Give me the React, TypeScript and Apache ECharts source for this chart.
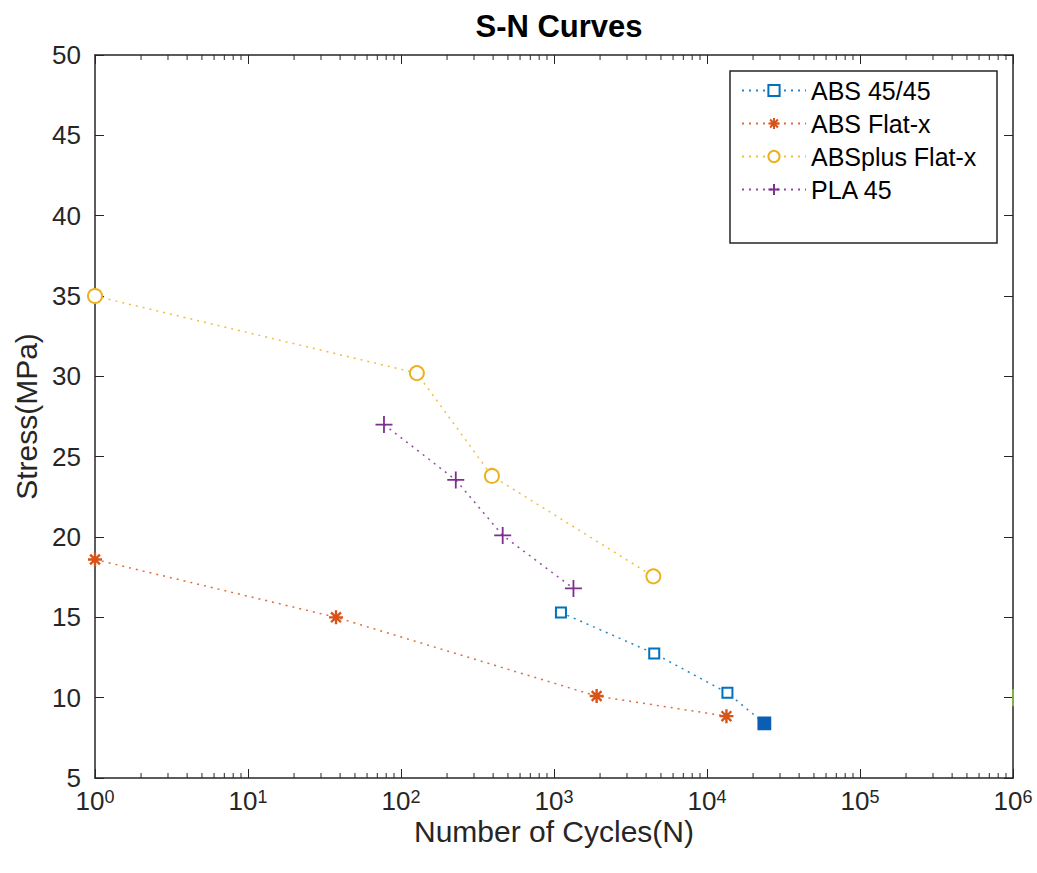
import React, { useEffect, useRef } from "react";
import * as echarts from "echarts";

const titleText = "S-N Curves";
const xName = "Number of Cycles(N)";
const yName = "Stress(MPa)";
const seriesNames = ["ABS 45/45", "ABS Flat-x", "ABSplus Flat-x", "PLA 45"];

const abs4545 = [
  [1110, 15.3],
  [4520, 12.75],
  [13600, 10.3],
];
const abs4545Runout = [23700, 8.4];
const absFlatX = [
  [1, 18.6],
  [37.6, 15.0],
  [1900, 10.1],
  [13400, 8.85],
];
const absPlusFlatX = [
  [1, 35.0],
  [127, 30.2],
  [393, 23.8],
  [4460, 17.55],
];
const pla45 = [
  [77.4, 27.0],
  [228, 23.55],
  [462, 20.1],
  [1340, 16.8],
];
const extraPoint = [[1000000, 10]];

const yTicks = { min: 5, max: 50, interval: 5 };
const decades = [1, 10, 100, 1000, 10000, 100000];
const minorMultipliers = [2, 3, 4, 5, 6, 7, 8, 9];

const colors = ["#0072BD", "#D95319", "#EDB120", "#7E2F8E"];
const FONT = "'Liberation Sans', Arial, Helvetica, sans-serif";
const AXIS_COLOR = "#262626";

const asteriskPath =
  "path://M0,5L10,5M5,0L5,10M1.5,1.5L8.5,8.5M8.5,1.5L1.5,8.5";
const plusPath = "path://M0,5L10,5M5,0L5,10";

export default function App() {
  const ref = useRef<HTMLDivElement>(null);

  useEffect(() => {
    if (!ref.current) return;
    const chart = echarts.init(ref.current, undefined, { renderer: "svg" });

    const minorTickValues = decades.flatMap((d) =>
      minorMultipliers.map((m) => [m * d, yTicks.min])
    );

    const dotted = (c: string) => ({
      color: c,
      width: 1.5,
      type: [2, 5] as any,
      opacity: 0.85,
    });

    const supLabel = (v: number) => {
      const e = Math.round(Math.log10(v));
      return `{b|10}{s|${e}}`;
    };

    const option: any = {
      animation: false,
      backgroundColor: "#ffffff",
      title: {
        text: titleText,
        left: 554,
        top: 6,
        textAlign: "center",
        textStyle: {
          fontFamily: FONT,
          fontSize: 31,
          fontWeight: "bold",
          color: "#000",
        },
      },
      grid: { left: 95, right: 24, top: 55, bottom: 95, containLabel: false },
      legend: {
        data: seriesNames,
        orient: "vertical",
        left: 736,
        top: 73,
        itemWidth: 64,
        itemHeight: 14,
        itemGap: 8,
        textStyle: {
          fontFamily: FONT,
          fontSize: 25,
          color: "#000",
          lineHeight: 24,
        },
      },
      xAxis: [
        {
          type: "log",
          logBase: 10,
          min: 1,
          max: 1000000,
          position: "bottom",
          name: xName,
          nameLocation: "middle",
          nameGap: 38,
          nameMoveOverlap: false,
          nameTextStyle: {
            fontFamily: FONT,
            fontSize: 30,
            color: AXIS_COLOR,
            lineHeight: 30,
          },
          axisLine: { show: true, lineStyle: { color: AXIS_COLOR, width: 1.5 } },
          axisTick: { show: true, inside: true, length: 9, lineStyle: { color: AXIS_COLOR } },
          splitLine: { show: false },
          axisLabel: {
            margin: 10,
            formatter: supLabel,
            color: AXIS_COLOR,
            rich: {
              b: { fontFamily: FONT, fontSize: 26, color: AXIS_COLOR, lineHeight: 26, verticalAlign: "bottom" },
              s: { fontFamily: FONT, fontSize: 18, color: AXIS_COLOR, lineHeight: 16, verticalAlign: "top" },
            },
          },
        },
        {
          type: "log",
          logBase: 10,
          min: 1,
          max: 1000000,
          position: "top",
          axisLine: { show: true, lineStyle: { color: AXIS_COLOR, width: 1.5 } },
          axisTick: { show: true, inside: true, length: 9, lineStyle: { color: AXIS_COLOR } },
          axisLabel: { show: false },
          splitLine: { show: false },
        },
      ],
      yAxis: [
        {
          type: "value",
          min: yTicks.min,
          max: yTicks.max,
          interval: yTicks.interval,
          position: "left",
          name: yName,
          nameLocation: "middle",
          nameGap: 50,
          nameTextStyle: { fontFamily: FONT, fontSize: 30, color: AXIS_COLOR },
          axisLine: { show: true, lineStyle: { color: AXIS_COLOR, width: 1.5 } },
          axisTick: { show: true, inside: true, length: 9, lineStyle: { color: AXIS_COLOR } },
          splitLine: { show: false },
          axisLabel: { fontFamily: FONT, fontSize: 26, lineHeight: 20, color: AXIS_COLOR, margin: 14 },
        },
        {
          type: "value",
          min: yTicks.min,
          max: yTicks.max,
          interval: yTicks.interval,
          position: "right",
          axisLine: { show: true, lineStyle: { color: AXIS_COLOR, width: 1.5 } },
          axisTick: { show: true, inside: true, length: 9, lineStyle: { color: AXIS_COLOR } },
          axisLabel: { show: false },
          splitLine: { show: false },
        },
      ],
      graphic: [
        {
          type: "rect",
          shape: { x: 730, y: 71, width: 267, height: 172 },
          style: { fill: "none", stroke: AXIS_COLOR, lineWidth: 1.5 },
          z: 100,
          silent: true,
        },
      ],
      series: [
        {
          type: "custom",
          name: "minorTicks",
          xAxisIndex: 0,
          yAxisIndex: 0,
          silent: true,
          clip: false,
          data: minorTickValues,
          encode: { x: 0, y: 1 },
          renderItem: (params: any, api: any) => {
            const v = api.value(0);
            const b = api.coord([v, yTicks.min]);
            const t = api.coord([v, yTicks.max]);
            const st = { stroke: AXIS_COLOR, lineWidth: 1 };
            return {
              type: "group",
              children: [
                { type: "line", shape: { x1: b[0], y1: b[1], x2: b[0], y2: b[1] - 5 }, style: st },
                { type: "line", shape: { x1: t[0], y1: t[1], x2: t[0], y2: t[1] + 5 }, style: st },
              ],
            };
          },
          z: 5,
        },
        {
          type: "line",
          name: seriesNames[0],
          data: [
            ...abs4545,
            {
              value: abs4545Runout,
              symbol: "rect",
              symbolSize: 12,
              itemStyle: { color: "#0a5fb4", borderColor: "#0a5fb4" },
            },
          ],
          symbol: "emptyRect",
          symbolSize: 10,
          itemStyle: { color: colors[0], borderColor: colors[0], borderWidth: 1.8 },
          lineStyle: dotted(colors[0]),
          z: 10,
        },
        {
          type: "line",
          name: seriesNames[1],
          data: absFlatX,
          symbol: asteriskPath,
          symbolSize: 14,
          itemStyle: { color: colors[1], borderColor: colors[1], borderWidth: 2.4 },
          lineStyle: dotted(colors[1]),
          z: 10,
        },
        {
          type: "line",
          name: seriesNames[2],
          data: absPlusFlatX,
          symbol: "emptyCircle",
          symbolSize: 14,
          itemStyle: { color: colors[2], borderColor: colors[2], borderWidth: 1.8 },
          lineStyle: dotted(colors[2]),
          z: 10,
        },
        {
          type: "line",
          name: seriesNames[3],
          data: pla45,
          symbol: plusPath,
          symbolSize: 17,
          itemStyle: { color: colors[3], borderColor: colors[3], borderWidth: 1.8 },
          lineStyle: dotted(colors[3]),
          z: 10,
        },
        {
          type: "scatter",
          name: "extra",
          data: extraPoint,
          symbol: "rect",
          symbolSize: [2, 17],
          itemStyle: { color: "#8cc63f" },
          z: 20,
          silent: true,
        },
      ],
    };

    chart.setOption(option);
    return () => chart.dispose();
  }, []);

  return (
    <div
      ref={ref}
      style={{ position: "absolute", left: 0, top: 0, width: 1037, height: 873 }}
    />
  );
}
